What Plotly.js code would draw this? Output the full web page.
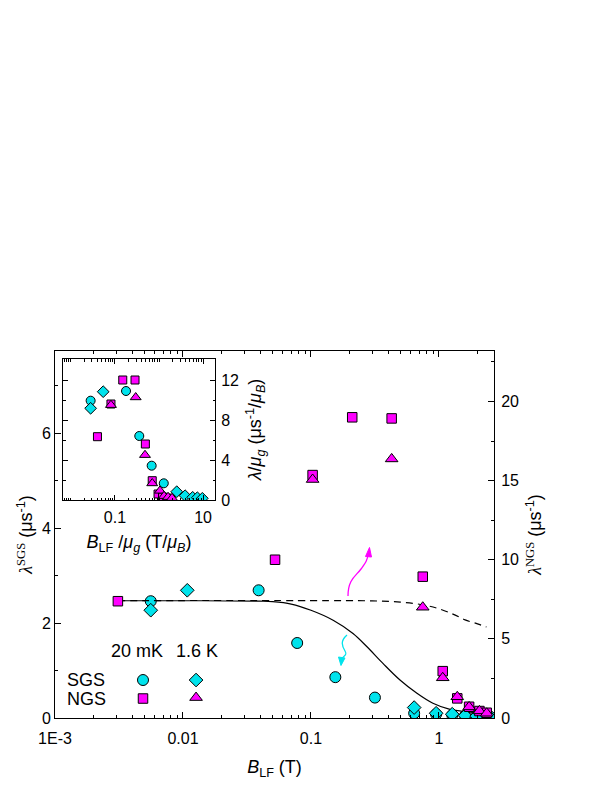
<!DOCTYPE html>
<html><head><meta charset="utf-8">
<script src="https://cdn.plot.ly/plotly-3.0.1.min.js"></script>
<style>body{margin:0;background:#fff}</style>
</head><body><div id="plot" style="width:598px;height:786px"></div>
<script>
// ---- Main plot: lambda vs B_LF ----
// SGS, 20 mK (circles, left axis)
const sgs20_B      = [0.0056, 0.039, 0.078, 0.155, 0.316, 0.64, 0.95, 1.27, 1.6, 1.97, 2.5];
const sgs20_lambda = [2.46, 2.69, 1.58, 0.86, 0.43, 0.10, 0.08, 0.06, 0.05, 0.04, 0.03];
// SGS, 1.6 K (diamonds, left axis)
const sgs16_B      = [0.0056, 0.0108, 0.64, 0.95, 1.27, 1.6, 1.97, 2.45];
const sgs16_lambda = [2.27, 2.69, 0.22, 0.10, 0.08, 0.05, 0.04, 0.03];
// NGS, 20 mK (squares, right axis)
const ngs20_B      = [0.0031, 0.0524, 0.103, 0.21, 0.427, 0.747, 1.07, 1.39, 1.72, 2.07, 2.36];
const ngs20_lambda = [7.38, 10.0, 15.35, 19.0, 18.93, 8.93, 2.96, 1.24, 0.71, 0.44, 0.33];
// NGS, 1.6 K (triangles, right axis)
const ngs16_B      = [0.103, 0.427, 0.747, 1.07, 1.39, 1.72, 2.07, 2.36];
const ngs16_lambda = [15.07, 16.37, 7.0, 2.54, 1.34, 0.70, 0.45, 0.30];
// Model curves
const solid_B      = [0.0031, 0.0136, 0.04, 0.05, 0.07, 0.1, 0.149, 0.213, 0.274, 0.365, 0.496, 0.673, 0.897, 1.22, 1.65, 2.37];
const solid_lambda = [2.47, 2.47, 2.46, 2.45, 2.40, 2.27, 2.06, 1.78, 1.50, 1.15, 0.80, 0.52, 0.31, 0.18, 0.13, 0.10];
const dashed_B      = [0.0031, 0.1, 0.3, 0.5, 0.75, 1.0, 1.3, 1.6, 2.0, 2.35];
const dashed_lambda = [7.42, 7.42, 7.40, 7.32, 7.15, 6.90, 6.55, 6.20, 5.95, 5.75];

// ---- Inset: lambda/mu_g vs B_LF/mu_g ----
const in_sgs20_x = [0.028, 0.178, 0.356, 0.68, 1.28];
const in_sgs20_y = [9.93, 10.9, 6.4, 3.43, 1.67];
const in_sgs16_x = [0.028, 0.054, 2.52, 3.9, 5.8, 7.4, 9.6];
const in_sgs16_y = [9.17, 10.83, 0.83, 0.43, 0.27, 0.23, 0.17];
const in_ngs20_x = [0.040, 0.081, 0.15, 0.285, 0.489, 0.70, 0.95, 1.2, 1.5, 1.85];
const in_ngs20_y = [6.33, 9.6, 12.0, 12.0, 5.6, 1.93, 0.6, 0.3, 0.2, 0.1];
const in_ngs16_x = [0.081, 0.295, 0.48, 0.70, 1.05, 1.3, 1.6, 1.97];
const in_ngs16_y = [9.5, 10.27, 4.5, 1.67, 0.93, 0.4, 0.3, 0.2];

// Tick labels
const mainXTickVals = [0.001, 0.01, 0.1, 1];
const mainXTickText = ['1E-3', '0.01', '0.1', '1'];
const insetXTickVals = [0.1, 10];
const insetXTickText = ['0.1', '10'];

// Legend key
const keyCols = ['20 mK', '1.6 K'];
const keyRows = ['SGS', 'NGS'];

const CYAN = '#00e3ec', MAG = '#ff00ff';
const FONT = 'Liberation Sans, Arial, sans-serif';

function minorLog(d0, d1, withDecades) {
  const v = [];
  for (let d = d0; d <= d1; d++) for (let k = (withDecades ? 1 : 2); k <= 9; k++) v.push(k * Math.pow(10, d));
  return v;
}

const mk = (sym, color, size) => ({symbol: sym, color: color, size: size, line: {color: '#000', width: 1}});

const traces = [
  {x: solid_B, y: solid_lambda, xaxis: 'x', yaxis: 'y', mode: 'lines', line: {color: '#000', width: 1.2, shape: 'spline'}, hoverinfo: 'skip'},
  {x: dashed_B, y: dashed_lambda, xaxis: 'x', yaxis: 'y2', mode: 'lines', line: {color: '#000', width: 1.2, dash: '7px,5px', shape: 'spline'}, hoverinfo: 'skip'},
  {x: sgs20_B, y: sgs20_lambda, xaxis: 'x', yaxis: 'y', mode: 'markers', marker: mk('circle', CYAN, 11)},
  {x: sgs16_B, y: sgs16_lambda, xaxis: 'x', yaxis: 'y', mode: 'markers', marker: mk('diamond', CYAN, 10.5)},
  {x: ngs20_B, y: ngs20_lambda, xaxis: 'x', yaxis: 'y2', mode: 'markers', marker: mk('square', MAG, 9.5)},
  {x: ngs16_B, y: ngs16_lambda, xaxis: 'x', yaxis: 'y2', mode: 'markers', marker: mk('triangle-up', MAG, 11)},
  // inset
  {x: in_sgs20_x, y: in_sgs20_y, xaxis: 'x3', yaxis: 'y3', mode: 'markers', marker: mk('circle', CYAN, 9)},
  {x: in_ngs20_x, y: in_ngs20_y, xaxis: 'x3', yaxis: 'y3', mode: 'markers', marker: mk('square', MAG, 8)},
  {x: in_sgs16_x, y: in_sgs16_y, xaxis: 'x3', yaxis: 'y3', mode: 'markers', marker: mk('diamond', CYAN, 9)},
  {x: in_ngs16_x, y: in_ngs16_y, xaxis: 'x3', yaxis: 'y3', mode: 'markers', marker: mk('triangle-up', MAG, 9.5)},
  // legend key symbols
  {x: [0.00487], y: [0.80], xaxis: 'x', yaxis: 'y', mode: 'markers', marker: mk('circle', CYAN, 11), hoverinfo: 'skip'},
  {x: [0.01265], y: [0.80], xaxis: 'x', yaxis: 'y', mode: 'markers', marker: mk('diamond', CYAN, 10.5), hoverinfo: 'skip'},
  {x: [0.00487], y: [0.41], xaxis: 'x', yaxis: 'y', mode: 'markers', marker: mk('square', MAG, 9.5), hoverinfo: 'skip'},
  {x: [0.01265], y: [0.43], xaxis: 'x', yaxis: 'y', mode: 'markers', marker: mk('triangle-up', MAG, 11), hoverinfo: 'skip'}
];

// pixel -> paper helpers (plot area: x 55..494, y 351..718)
const L = 55, R = 494, T = 351, B = 718;
const fx = px => (px - L) / (R - L);
const fy = py => (B - py) / (B - T);
function pth(cmds) {
  return cmds.map(c => c[0] + (c.length > 1 ? ' ' + c.slice(1).map((v, i) => (i % 2 === 0 ? fx(v) : fy(v)).toFixed(5)).join(',') : '')).join(' ');
}

const shapes = [
  // magenta arrow (up, toward right axis)
  {type: 'path', xref: 'paper', yref: 'paper', line: {color: MAG, width: 1.3},
   path: pth([['M', 348, 596], ['C', 348, 579, 356, 576, 361, 569], ['S', 367, 561, 368.5, 553]])},
  {type: 'path', xref: 'paper', yref: 'paper', line: {color: MAG, width: 1}, fillcolor: MAG,
   path: pth([['M', 365.5, 556.5], ['L', 371.5, 557], ['L', 369.5, 547.5], ['Z']])},
  // cyan arrow (down, toward left axis)
  {type: 'path', xref: 'paper', yref: 'paper', line: {color: CYAN, width: 1.3},
   path: pth([['M', 347, 635], ['C', 340, 641, 342, 646, 345, 651], ['S', 343, 655, 342, 659]])},
  {type: 'path', xref: 'paper', yref: 'paper', line: {color: CYAN, width: 1}, fillcolor: CYAN,
   path: pth([['M', 338.5, 657], ['L', 345, 658], ['L', 341, 665.5], ['Z']])}
];

const annF = {family: FONT, size: 18, color: '#000'};
const annotations = [
  {xref: 'paper', yref: 'paper', x: fx(137), y: fy(651), text: keyCols[0], showarrow: false, font: annF, xanchor: 'center', yanchor: 'middle'},
  {xref: 'paper', yref: 'paper', x: fx(197), y: fy(651), text: keyCols[1], showarrow: false, font: annF, xanchor: 'center', yanchor: 'middle'},
  {xref: 'paper', yref: 'paper', x: fx(65), y: fy(680), text: keyRows[0], showarrow: false, font: annF, xanchor: 'left', yanchor: 'middle'},
  {xref: 'paper', yref: 'paper', x: fx(65), y: fy(699), text: keyRows[1], showarrow: false, font: annF, xanchor: 'left', yanchor: 'middle'}
];

const tickF = {family: FONT, size: 16, color: '#000'};
const titleF = {family: FONT, size: 18, color: '#000'};
const axBase = {showline: true, linecolor: '#000', linewidth: 1, ticks: 'inside', ticklen: 6, tickwidth: 1, tickcolor: '#000',
  showgrid: false, zeroline: false, tickfont: tickF, automargin: false};

const layout = {
  width: 598, height: 786,
  margin: {l: L, r: 598 - R, t: T, b: 786 - B, pad: 0},
  paper_bgcolor: '#fff', plot_bgcolor: 'rgba(0,0,0,0)',
  showlegend: false,
  font: {family: FONT, color: '#000'},
  xaxis: Object.assign({}, axBase, {type: 'log', range: [-3, 0.43], anchor: 'y', mirror: 'ticks',
    tickmode: 'array', tickvals: mainXTickVals, ticktext: mainXTickText, ticklabelstandoff: 6,
    minor: {ticks: 'inside', ticklen: 3, tickcolor: '#000', tickmode: 'array', tickvals: minorLog(-3, 0, false)},
    title: {text: '<i>B</i><sub>LF</sub> (T)', font: titleF, standoff: 14}}),
  yaxis: Object.assign({}, axBase, {range: [0, 7.73], anchor: 'x', tickvals: [0, 2, 4, 6],
    minor: {ticks: 'inside', ticklen: 3, tickcolor: '#000', dtick: 1},
    title: {text: '<span style="font-family:Liberation Serif"><i>λ</i><sup>SGS</sup></span> (μs<sup>-1</sup>)', font: titleF, standoff: 4}}),
  yaxis2: Object.assign({}, axBase, {range: [0, 23.19], anchor: 'x', overlaying: 'y', side: 'right', dtick: 5, ticklabelstandoff: 3,
    minor: {ticks: 'inside', ticklen: 3, tickcolor: '#000', dtick: 2.5},
    title: {text: '<span style="font-family:Liberation Serif"><i>λ</i><sup>NGS</sup></span> (μs<sup>-1</sup>)', font: titleF, standoff: 10}}),
  xaxis3: Object.assign({}, axBase, {type: 'log', range: [-2.18, 1.27], anchor: 'y3', domain: [fx(63), fx(215)], mirror: 'ticks',
    tickmode: 'array', tickvals: insetXTickVals, ticktext: insetXTickText, ticklen: 5, ticklabelstandoff: 3,
    minor: {ticks: 'inside', ticklen: 2.5, tickcolor: '#000', tickmode: 'array', tickvals: minorLog(-3, 1, true).filter(v => Math.abs(Math.log10(v) + 1) > 1e-6 && Math.abs(Math.log10(v) - 1) > 1e-6)},
    title: {text: '<i>B</i><sub>LF</sub> /<i>μ</i><sub><i>g</i></sub> (T/<i>μ</i><sub><i>B</i></sub>)', font: titleF, standoff: 10}}),
  yaxis3: Object.assign({}, axBase, {range: [0, 14.1], anchor: 'x3', domain: [fy(500), fy(359)], side: 'right', mirror: 'ticks',
    tickvals: [0, 4, 8, 12], ticklen: 5, ticklabelstandoff: 2,
    minor: {ticks: 'inside', ticklen: 2.5, tickcolor: '#000', dtick: 2},
    title: {text: '<i>λ</i>/<i>μ</i><sub><i>g</i></sub> (μs<sup>-1</sup>/<i>μ</i><sub><i>B</i></sub>)', font: titleF, standoff: 10}}),
  shapes: shapes,
  annotations: annotations
};

Plotly.newPlot('plot', traces, layout, {displayModeBar: false, staticPlot: true});
</script>
</body></html>
